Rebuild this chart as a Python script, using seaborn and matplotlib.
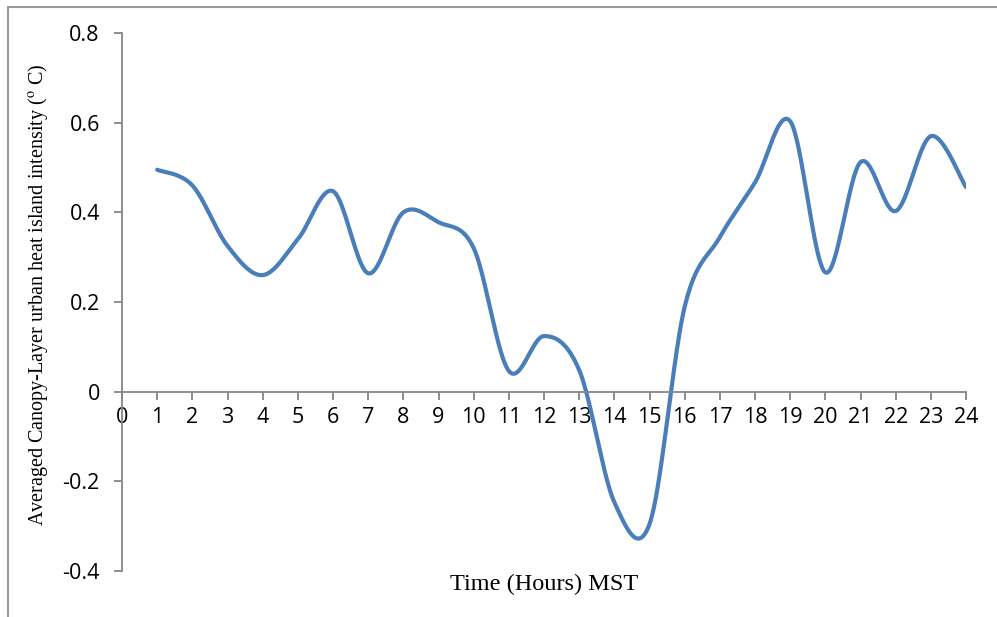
import numpy as np
import pandas as pd
import matplotlib
matplotlib.use("Agg")
import matplotlib.pyplot as plt
from matplotlib.lines import Line2D
import seaborn as sns

# Hourly averaged canopy-layer urban heat island intensity (deg C)
hours = [1, 2, 3, 4, 5, 6, 7, 8, 9, 10, 11, 12,
         13, 14, 15, 16, 17, 18, 19, 20, 21, 22, 23, 24]
intensity = [0.495, 0.460, 0.325, 0.260, 0.340, 0.447, 0.264, 0.400,
             0.378, 0.320, 0.046, 0.124, 0.048, -0.247, -0.295, 0.190,
             0.345, 0.467, 0.603, 0.266, 0.512, 0.403, 0.570, 0.456]
x_ticks = list(range(0, 25))
y_ticks = [-0.4, -0.2, 0, 0.2, 0.4, 0.6, 0.8]
y_tick_labels = ["-0.4", "-0.2", "0", "0.2", "0.4", "0.6", "0.8"]


def smooth_curve(xs, ys, n=40):
    """Cardinal (Catmull-Rom) Bezier smoothing through every point."""
    xs = np.asarray(xs, float)
    ys = np.asarray(ys, float)
    px = np.concatenate([[xs[0]], xs, [xs[-1]]])
    py = np.concatenate([[ys[0]], ys, [ys[-1]]])
    out_x, out_y = [], []
    t = np.linspace(0, 1, n, endpoint=False)
    for i in range(1, len(px) - 2):
        p0x, p1x, p2x, p3x = px[i - 1], px[i], px[i + 1], px[i + 2]
        p0y, p1y, p2y, p3y = py[i - 1], py[i], py[i + 1], py[i + 2]
        c1x, c1y = p1x + (p2x - p0x) / 6, p1y + (p2y - p0y) / 6
        c2x, c2y = p2x - (p3x - p1x) / 6, p2y - (p3y - p1y) / 6
        b0 = (1 - t) ** 3
        b1 = 3 * (1 - t) ** 2 * t
        b2 = 3 * (1 - t) * t ** 2
        b3 = t ** 3
        out_x.extend(b0 * p1x + b1 * c1x + b2 * c2x + b3 * p2x)
        out_y.extend(b0 * p1y + b1 * c1y + b2 * c2y + b3 * p2y)
    out_x.append(xs[-1])
    out_y.append(ys[-1])
    return np.array(out_x), np.array(out_y)


sx, sy = smooth_curve(hours, intensity)
curve = pd.DataFrame({"hour": sx, "uhi": sy})

sns.set_theme(style="white")
plt.rcParams["font.family"] = ["Open Sans", "DejaVu Sans"]
plt.rcParams["mathtext.fontset"] = "stix"

fig = plt.figure(figsize=(9.97, 6.17), dpi=100)
ax = fig.add_axes([0.1224, 0.0746, 0.8466, 0.8719])

sns.lineplot(data=curve, x="hour", y="uhi", sort=False, ax=ax,
             color="#4a7ebb", linewidth=3.0, solid_capstyle="round")

axis_grey = "#868686"
ax.set_xlim(0, 24)
ax.set_ylim(-0.4, 0.8)
ax.set_xticks(x_ticks)
ax.set_xticklabels([str(v) for v in x_ticks])
ax.set_yticks(y_ticks)
ax.set_yticklabels(y_tick_labels)

for side in ("top", "right"):
    ax.spines[side].set_visible(False)
ax.spines["bottom"].set_position(("data", 0))
for side in ("left", "bottom"):
    ax.spines[side].set_color(axis_grey)
    ax.spines[side].set_linewidth(1.3)

ax.tick_params(axis="x", direction="out", length=6, width=1.3, color=axis_grey,
               labelsize=15.5, pad=5, labelcolor="black")
ax.tick_params(axis="y", direction="out", length=6, width=1.3, color=axis_grey,
               labelsize=15.5, pad=10, labelcolor="black")
ax.tick_params(left=True, bottom=True)

ax.set_xlabel("Time (Hours) MST", family="Liberation Serif", fontsize=17.5,
              color="black")
ax.xaxis.set_label_coords(0.5, -0.005, transform=ax.transAxes)
ax.xaxis.label.set_verticalalignment("top")
ax.set_ylabel(r"Averaged Canopy-Layer urban heat island intensity ($^{\mathrm{o}}$ C)",
              family="Liberation Serif", fontsize=14.5, color="black")
ax.yaxis.set_label_coords(-0.085, 0.513)

# Thin frame around the chart area (left and top edges)
frame_kw = dict(color="#9a9a9a", linewidth=1.5, transform=fig.transFigure)
fig.add_artist(Line2D([8 / 997, 8 / 997], [0, 1 - 7 / 617], **frame_kw))
fig.add_artist(Line2D([8 / 997, 1], [1 - 7 / 617, 1 - 7 / 617], **frame_kw))

fig.savefig("out.png", dpi=100, facecolor="white")
